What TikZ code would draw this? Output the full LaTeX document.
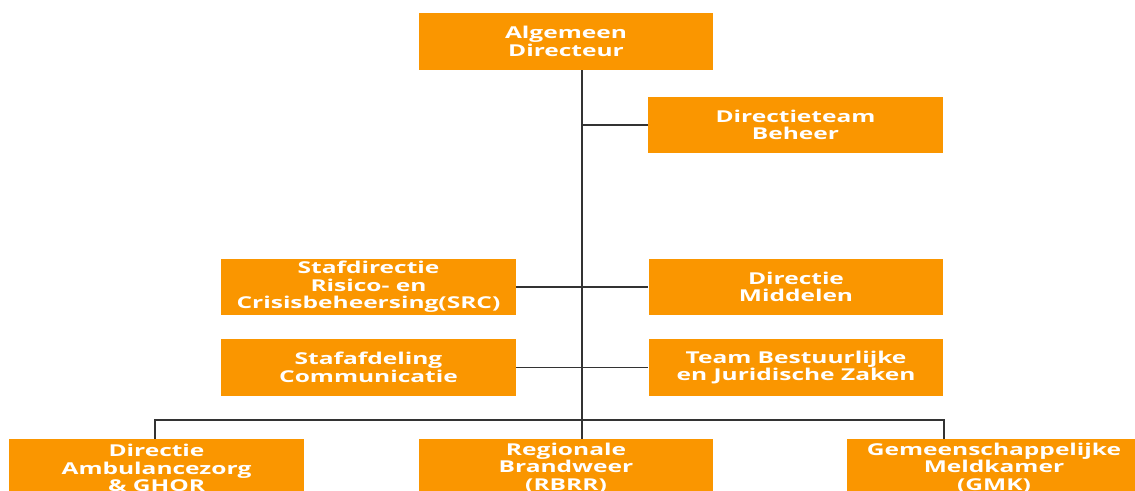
\documentclass[tikz,border=0pt]{standalone}
\usepackage{fontspec}
\newfontfamily\orgfont[FakeStretch=1.5]{Open Sans}
\usepackage{tikz}
\usetikzlibrary{positioning}
\definecolor{orgorange}{RGB}{250,150,0}

\begin{document}
\begin{tikzpicture}[x=0.02cm,y=-0.02cm]
    \tikzset{unit/.style = {shape=rectangle,fill=orgorange,text=white,align=center,
        inner sep=0pt,minimum width=5.9cm,minimum height=1.14cm,
        font=\orgfont\bfseries\fontsize{9.3}{10}\selectfont}}
    \tikzset{edge/.style = {draw=black!80,line width=0.9pt}}
    \clip (0,0) rectangle (1135,490);
    % vertices
    \node[unit] (ad) at (566,41.5) {Algemeen\\Directeur};
    \node[unit] (beheer) at (795.5,125) {Directieteam\\Beheer};
    \node[unit] (src) at (368.5,287) {Stafdirectie\\Risico- en\\Crisisbeheersing(SRC)};
    \node[unit] (middelen) at (796,287) {Directie\\Middelen};
    \node[unit] (comm) at (368.5,367.5) {Stafafdeling\\Communicatie};
    \node[unit] (bjz) at (796,367.5) {Team Bestuurlijke\\en Juridische Zaken};
    \node[unit,minimum height=1.16cm] (ambu) at (156.5,468) {Directie\\Ambulancezorg\\\& GHOR};
    \node[unit,minimum height=1.16cm] (rbrr) at (566,468) {Regionale\\Brandweer\\(RBRR)};
    \node[unit,minimum height=1.16cm] (gmk) at (994,468) {Gemeenschappelijke\\Meldkamer\\(GMK)};
    \coordinate (trunk) at (582,420);
    \coordinate (barL) at (155,420);
    \coordinate (barR) at (944,420);
    % edges
    \draw[edge] (ad.south -| trunk) -- (rbrr.north -| trunk);
    \draw[edge] (beheer.west) -- (beheer.west -| trunk);
    \draw[edge] (src.east) -- (middelen.west);
    \draw[edge] (comm.east) -- (bjz.west);
    \draw[edge] (ambu.north -| barL) -- (barL) -- (barR) -- (gmk.north -| barR);
\end{tikzpicture}
\end{document}
